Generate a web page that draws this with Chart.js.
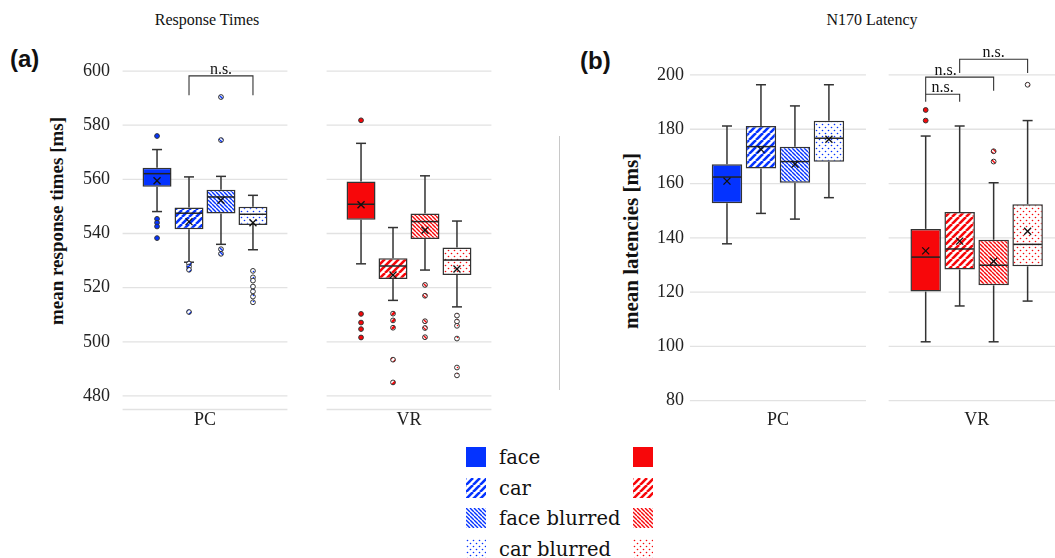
<!DOCTYPE html>
<html lang="en">
<head>
<meta charset="UTF-8">
<title>Response Times / N170 Latency</title>
<script src="https://cdn.jsdelivr.net/npm/chart.js"></script>
<style>
    body {
        margin: 0;
        width: 1055px;
        height: 558px;
        overflow: hidden;
        position: relative;
        background: #fff;
        font-family: 'Liberation Serif', serif;
        color: #111;
    }
    .chart-canvas { position: absolute; top: 0; }
    #rtChart { left: 0; }
    #latChart { left: 560px; }
    .panel-title {
        position: absolute;
        font-size: 16px;
        line-height: 16px;
        white-space: nowrap;
        transform: translateX(-50%);
    }
    .panel-tag {
        position: absolute;
        font-family: 'Liberation Sans', sans-serif;
        font-weight: bold;
        font-size: 24px;
        line-height: 24px;
    }
    .y-title {
        position: absolute;
        font-weight: bold;
        font-size: 19px;
        line-height: 19px;
        white-space: nowrap;
        transform: translate(-50%, -50%) rotate(-90deg);
    }
    .divider {
        position: absolute;
        left: 559px;
        top: 136px;
        width: 1px;
        height: 254px;
        background: #c8c8c8;
    }
    .legend-row {
        position: absolute;
        left: 466px;
        height: 20px;
        width: 200px;
        font-family: 'DejaVu Serif', serif;
        font-size: 19.5px;
        line-height: 20px;
    }
    .legend-row canvas { position: absolute; top: 0; }
    .legend-row span { position: absolute; left: 33px; top: 1px; white-space: nowrap; }
</style>
</head>
<body>
    <div class="panel-title" style="left:207px; top:12px;">Response Times</div>
    <div class="panel-title" style="left:872px; top:12px;">N170 Latency</div>
    <div class="panel-tag" style="left:10px; top:47px;">(a)</div>
    <div class="panel-tag" style="left:580px; top:49px;">(b)</div>
    <div class="y-title" style="left:56px; top:221px;">mean response times [ms]</div>
    <div class="y-title" style="left:631px; top:241px; font-size:21px;">mean latencies [ms]</div>

    <canvas id="rtChart" class="chart-canvas" width="560" height="440"></canvas>
    <canvas id="latChart" class="chart-canvas" width="520" height="440"></canvas>
    <div class="divider"></div>
    <div id="legend"></div>

<script>
const groups = ['PC', 'VR'];
const conditions = ['face', 'car', 'face blurred', 'car blurred'];

// response times [ms]: one row per condition, columns PC / VR
const rtWhiskerLow  = [[548.1, 528.8], [529.4, 515.3], [536.0, 526.5], [534.0, 512.9]];
const rtQ1          = [[557.3, 545.1], [541.6, 523.2], [547.4, 538.0], [543.1, 524.7]];
const rtMedian      = [[562.1, 550.8], [547.5, 528.0], [553.5, 544.4], [547.1, 530.2]];
const rtQ3          = [[564.3, 559.2], [549.6, 530.9], [556.2, 547.4], [549.9, 534.8]];
const rtWhiskerHigh = [[571.0, 573.3], [560.9, 542.2], [561.1, 561.3], [554.1, 544.6]];
const rtMean        = [[559.5, 550.6], [544.4, 524.7], [552.3, 541.2], [544.0, 526.9]];
const rtOutliers = [
    [[576.0, 545.4, 544.0, 542.6, 538.3], [581.8, 510.3, 507.1, 504.7, 501.6]],
    [[528.9, 527.8, 526.6, 511.0], [510.4, 507.9, 505.2, 493.4, 485.0]],
    [[590.4, 574.5, 534.2, 532.5], [521.0, 517.0, 507.6, 505.1, 501.7]],
    [[526.2, 523.8, 522.6, 520.4, 518.6, 516.7, 514.6], [509.7, 507.5, 505.9, 501.2, 490.5, 487.6]]
];
const rtTicks = [480, 500, 520, 540, 560, 580, 600];

// N170 latencies [ms]
const latWhiskerLow  = [[137.8, 101.7], [149.0, 114.9], [146.9, 101.7], [154.8, 116.7]];
const latQ1          = [[152.7, 120.2], [165.5, 128.3], [160.3, 122.5], [168.0, 129.5]];
const latMedian      = [[162.4, 132.9], [173.6, 135.9], [168.1, 129.9], [176.7, 137.6]];
const latQ3          = [[167.1, 143.3], [181.2, 149.5], [173.6, 139.3], [183.1, 152.4]];
const latWhiskerHigh = [[181.2, 177.5], [196.4, 181.2], [188.6, 160.3], [196.4, 183.2]];
const latMean        = [[160.9, 135.2], [172.6, 138.8], [167.1, 131.4], [176.3, 142.4]];
const latOutliers = [
    [[], [187.1, 183.2]],
    [[], []],
    [[], [171.9, 168.1]],
    [[], [196.4]]
];
const latTicks = [80, 100, 120, 140, 160, 180, 200];

const groupColors = ['#0433ff', '#f7070a'];
const fillKinds = ['solid', 'stripes', 'fine', 'dots'];

// solid colour or a hatch / dot pattern on white
function makeFill(kind, color) {
    if (kind === 'solid') return color;
    const size = { stripes: 7, fine: 4, dots: 6 }[kind];
    const c = document.createElement('canvas');
    c.width = c.height = size;
    const g = c.getContext('2d');
    g.fillStyle = '#fff';
    g.fillRect(0, 0, size, size);
    g.strokeStyle = color;
    g.fillStyle = color;
    if (kind === 'stripes') {
        g.lineWidth = 2.6;
        for (const o of [-size, 0, size]) {
            g.beginPath(); g.moveTo(o, size); g.lineTo(o + size, 0); g.stroke();
        }
    } else if (kind === 'fine') {
        g.lineWidth = 1.4;
        for (const o of [-size, 0, size]) {
            g.beginPath(); g.moveTo(o, 0); g.lineTo(o + size, size); g.stroke();
        }
    } else {
        for (const [px, py] of [[1.5, 1.5], [4.5, 4.5]]) {
            g.beginPath(); g.arc(px, py, 0.8, 0, Math.PI * 2); g.fill();
        }
    }
    return g.createPattern(c, 'repeat');
}

const fills = fillKinds.map(k => groupColors.map(col => makeFill(k, col)));

function boxDatasets(low, q1, med, q3, high, mean, outliers, catPct, barPct) {
    return conditions.map((label, ci) => ({
        label: label,
        data: groups.map((g, gi) => [q1[ci][gi], q3[ci][gi]]),
        backgroundColor: groups.map((g, gi) => fills[ci][gi]),
        borderColor: '#333',
        borderWidth: 1.5,
        borderSkipped: false,
        categoryPercentage: catPct,
        barPercentage: barPct,
        boxStats: { low: low[ci], med: med[ci], high: high[ci], mean: mean[ci], out: outliers[ci] }
    }));
}

// whiskers, medians, means, outliers, split gridlines and n.s. brackets
function boxPlotExtras(gridHalf, brackets) {
    const line = (ctx, x1, y1, x2, y2) => {
        ctx.beginPath(); ctx.moveTo(x1, y1); ctx.lineTo(x2, y2); ctx.stroke();
    };
    return {
        id: 'boxPlotExtras',
        beforeDatasetsDraw(chart) {
            const { ctx, scales: { x, y } } = chart;
            const half = x.width / groups.length * gridHalf;
            const values = y.ticks.map(t => t.value);
            if (!values.includes(y.min)) values.push(y.min);
            ctx.save();
            ctx.strokeStyle = '#e2e2e2';
            ctx.lineWidth = 1.3;
            groups.forEach((g, gi) => {
                const cx = x.getPixelForValue(gi);
                values.forEach(v => {
                    const py = y.getPixelForValue(v);
                    line(ctx, cx - half, py, cx + half, py);
                });
            });
            ctx.restore();
        },
        afterDatasetsDraw(chart) {
            const { ctx, scales: { y } } = chart;
            ctx.save();
            chart.data.datasets.forEach((ds, di) => {
                const s = ds.boxStats;
                chart.getDatasetMeta(di).data.forEach((bar, gi) => {
                    const cx = bar.x, w = bar.width;
                    const yq1 = y.getPixelForValue(ds.data[gi][0]);
                    const yq3 = y.getPixelForValue(ds.data[gi][1]);
                    const yLo = y.getPixelForValue(s.low[gi]);
                    const yHi = y.getPixelForValue(s.high[gi]);
                    ctx.strokeStyle = '#333';
                    ctx.lineWidth = 1.5;
                    line(ctx, cx, yq3, cx, yHi);
                    line(ctx, cx - 5, yHi, cx + 5, yHi);
                    line(ctx, cx, yq1, cx, yLo);
                    line(ctx, cx - 5, yLo, cx + 5, yLo);
                    // median
                    const yMed = y.getPixelForValue(s.med[gi]);
                    ctx.strokeStyle = '#222';
                    line(ctx, cx - w / 2 + 1, yMed, cx + w / 2 - 1, yMed);
                    // mean
                    const yMean = y.getPixelForValue(s.mean[gi]);
                    ctx.strokeStyle = '#111';
                    ctx.lineWidth = 1.3;
                    line(ctx, cx - 3.5, yMean - 3.5, cx + 3.5, yMean + 3.5);
                    line(ctx, cx - 3.5, yMean + 3.5, cx + 3.5, yMean - 3.5);
                    // outliers
                    ctx.lineWidth = 1;
                    ctx.strokeStyle = '#333';
                    ctx.fillStyle = ds.backgroundColor[gi];
                    s.out[gi].forEach(v => {
                        ctx.beginPath();
                        ctx.arc(cx, y.getPixelForValue(v), 2.4, 0, Math.PI * 2);
                        ctx.fill();
                        ctx.stroke();
                    });
                });
            });
            // significance brackets
            ctx.strokeStyle = '#333';
            ctx.lineWidth = 1.1;
            ctx.fillStyle = '#111';
            ctx.font = '16px "Liberation Serif"';
            ctx.textAlign = 'center';
            ctx.textBaseline = 'alphabetic';
            brackets.forEach(b => {
                const x1 = chart.getDatasetMeta(b.from).data[b.group].x;
                const x2 = chart.getDatasetMeta(b.to).data[b.group].x;
                const py = y.getPixelForValue(b.y);
                ctx.beginPath();
                ctx.moveTo(x1, y.getPixelForValue(b.leftEnd));
                ctx.lineTo(x1, py);
                ctx.lineTo(x2, py);
                ctx.lineTo(x2, y.getPixelForValue(b.rightEnd));
                ctx.stroke();
                ctx.fillText('n.s.', (x1 + x2) / 2 + (b.textDx || 0), py - 2);
            });
            ctx.restore();
        }
    };
}

function boxOptions(opts) {
    return {
        responsive: false,
        animation: false,
        layout: { padding: opts.padding },
        plugins: { legend: { display: false }, tooltip: { enabled: false } },
        scales: {
            x: {
                grid: { display: false, drawTicks: false },
                border: { display: false },
                ticks: { color: '#222', padding: opts.xPad, font: { family: 'Liberation Serif', size: 18 } },
                afterFit: s => { s.height = opts.xHeight; }
            },
            y: {
                min: opts.min,
                max: opts.max,
                grid: { display: false, drawTicks: false },
                border: { display: false },
                // mirrored so the labels may sit a little inside the plot edge without clipping
                ticks: {
                    color: '#222', mirror: true, crossAlign: 'far', padding: opts.yPad,
                    font: { family: 'Liberation Serif', size: 18 }
                },
                afterBuildTicks: s => { s.ticks = opts.ticks.map(v => ({ value: v })); },
                afterFit: s => { s.width = opts.yWidth; }
            }
        }
    };
}

new Chart(document.getElementById('rtChart'), {
    type: 'bar',
    data: {
        labels: groups,
        datasets: boxDatasets(rtWhiskerLow, rtQ1, rtMedian, rtQ3, rtWhiskerHigh, rtMean, rtOutliers, 0.627, 0.906)
    },
    options: boxOptions({
        padding: { left: 0, right: 49, top: 57.5, bottom: 0 },
        min: 475, max: 605, ticks: rtTicks,
        yWidth: 103, yPad: -20, xHeight: 30.5, xPad: 0
    }),
    plugins: [boxPlotExtras(0.404, [
        { group: 0, from: 1, to: 3, y: 598.2, leftEnd: 591.1, rightEnd: 591.1 }
    ])]
});

new Chart(document.getElementById('latChart'), {
    type: 'bar',
    data: {
        labels: groups,
        datasets: boxDatasets(latWhiskerLow, latQ1, latMedian, latQ3, latWhiskerHigh, latMean, latOutliers, 0.684, 0.897)
    },
    options: boxOptions({
        padding: { left: 0, right: 4, top: 61.4, bottom: 0 },
        min: 80, max: 205, ticks: latTicks,
        yWidth: 118.6, yPad: -21.6, xHeight: 39.3, xPad: 9
    }),
    plugins: [boxPlotExtras(0.443, [
        { group: 1, from: 0, to: 1, y: 192.9, leftEnd: 190.1, rightEnd: 190.1 },
        { group: 1, from: 0, to: 2, y: 199.2, leftEnd: 192.9, rightEnd: 194.2, textDx: -14 },
        { group: 1, from: 1, to: 3, y: 205.8, leftEnd: 200.7, rightEnd: 200.7 }
    ])]
});

// legend: blue (PC) and red (VR) swatches with the condition names
const legend = document.getElementById('legend');
conditions.forEach((name, ci) => {
    const row = document.createElement('div');
    row.className = 'legend-row';
    row.style.top = (447 + ci * 30.7) + 'px';
    groupColors.forEach((col, gi) => {
        const sw = document.createElement('canvas');
        sw.width = sw.height = 20;
        sw.style.left = (gi === 0 ? 0 : 167) + 'px';
        const g = sw.getContext('2d');
        g.fillStyle = fills[ci][gi];
        g.fillRect(0, 0, 20, 20);
        row.appendChild(sw);
    });
    const label = document.createElement('span');
    label.textContent = name;
    row.appendChild(label);
    legend.appendChild(row);
});
</script>
</body>
</html>
